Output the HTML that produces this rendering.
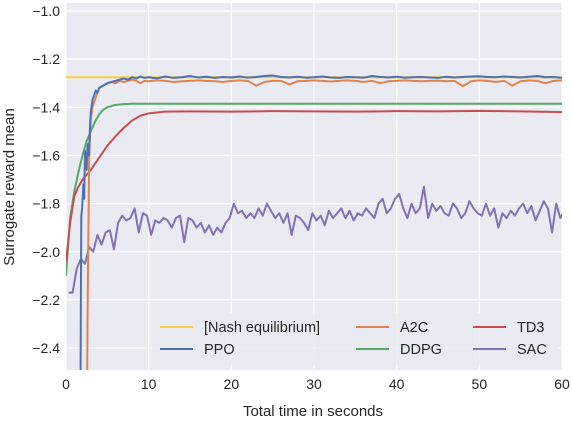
<!DOCTYPE html>
<html><head><meta charset="utf-8"><style>
body{margin:0;background:#fff;font-family:"Liberation Sans",sans-serif}
</style></head><body>
<svg width="572" height="421" xmlns="http://www.w3.org/2000/svg" style="font-family:'Liberation Sans',sans-serif">
<rect x="66" y="3" width="496" height="367" fill="#eaeaf2"/>
<g id="grid"></g>
<g id="series" clip-path="url(#clip)"></g>
<defs><clipPath id="clip"><rect x="66" y="3" width="496" height="367"/></clipPath></defs>
<g id="axes" font-size="14" fill="#262626"></g>
<text x="313" y="416" text-anchor="middle" font-size="15" fill="#262626">Total time in seconds</text>
<text transform="translate(14,187) rotate(-90)" text-anchor="middle" font-size="15" fill="#262626">Surrogate reward mean</text>
<g id="legend">
<rect x="152" y="313" width="406" height="52" rx="3" fill="#eaeaf2" opacity="0.8"/>
</g>
</svg>
<script>
const xTicks=[0,10,20,30,40,50,60];
const yTicks=[-1.0,-1.2,-1.4,-1.6,-1.8,-2.0,-2.2,-2.4];
const nash=-1.275;
const ppoT=[0,1.75,1.8,1.85,1.95,2.1,2.2,2.3,2.4,2.5,2.6,2.7,2.8,2.9,3.0,3.2,3.4,3.6,3.8,4.0,4.5,5,5.5,6,6.5,7,7.5,8,8.5,9,9.5,10,11,12,13,14,15,16,17,18,19,20,21,22,23,24,25,26,27,28,29,30,31,32,33,34,35,36,37,38,39,40,41,42,43,44,45,46,47,48,49,50,51,52,53,54,55,56,57,58,59,60];
const ppoV=[-2.6,-2.6,-2.2,-1.85,-1.82,-1.72,-1.78,-1.58,-1.62,-1.66,-1.56,-1.55,-1.6,-1.48,-1.42,-1.37,-1.35,-1.33,-1.34,-1.32,-1.31,-1.3,-1.295,-1.29,-1.285,-1.28,-1.285,-1.275,-1.28,-1.272,-1.278,-1.275,-1.28,-1.272,-1.278,-1.275,-1.27,-1.276,-1.273,-1.278,-1.274,-1.276,-1.272,-1.277,-1.274,-1.27,-1.268,-1.274,-1.276,-1.273,-1.277,-1.275,-1.272,-1.276,-1.278,-1.274,-1.275,-1.277,-1.27,-1.274,-1.276,-1.273,-1.277,-1.275,-1.274,-1.276,-1.278,-1.273,-1.276,-1.274,-1.272,-1.271,-1.274,-1.275,-1.272,-1.274,-1.276,-1.273,-1.27,-1.275,-1.274,-1.278];
const a2cT=[0,2.55,2.6,2.7,2.8,2.9,3.0,3.2,3.4,3.6,3.8,4.0,4.5,5,5.5,6,6.5,7,7.5,8,8.5,9,9.5,10,11,12,13,14,15,16,17,18,19,20,21,22,23,24,25,26,27,28,29,30,31,32,33,34,35,36,37,38,39,40,41,42,43,44,45,46,47,48,49,50,51,52,53,54,55,56,57,58,59,60];
const a2cV=[-2.6,-2.6,-2.3,-1.95,-1.6,-1.52,-1.45,-1.4,-1.38,-1.36,-1.34,-1.32,-1.31,-1.3,-1.295,-1.3,-1.29,-1.295,-1.29,-1.285,-1.29,-1.3,-1.29,-1.292,-1.288,-1.29,-1.295,-1.292,-1.29,-1.288,-1.29,-1.292,-1.295,-1.29,-1.288,-1.29,-1.31,-1.295,-1.29,-1.29,-1.305,-1.292,-1.29,-1.288,-1.29,-1.293,-1.29,-1.288,-1.29,-1.295,-1.29,-1.3,-1.292,-1.29,-1.288,-1.29,-1.292,-1.29,-1.289,-1.292,-1.29,-1.312,-1.292,-1.288,-1.29,-1.295,-1.29,-1.31,-1.292,-1.288,-1.29,-1.3,-1.29,-1.288,-1.29,-1.29];
const ddpgT=[0,0.5,1,1.5,2,2.5,3,3.5,4,4.5,5,6,7,8,10,20,30,40,50,60];
const ddpgV=[-2.1,-1.86,-1.75,-1.67,-1.6,-1.54,-1.5,-1.46,-1.43,-1.41,-1.4,-1.39,-1.387,-1.385,-1.385,-1.385,-1.385,-1.385,-1.385,-1.385];
const td3T=[0,0.5,1,1.5,2,3,4,5,6,7,8,9,10,12,15,20,25,30,35,40,45,50,55,60];
const td3V=[-2.04,-1.88,-1.77,-1.73,-1.7,-1.66,-1.61,-1.56,-1.52,-1.485,-1.455,-1.435,-1.425,-1.418,-1.417,-1.418,-1.416,-1.417,-1.418,-1.416,-1.417,-1.415,-1.417,-1.42];
const sacV=[-2.17,-2.17,-2.07,-2.03,-2.05,-1.98,-2.0,-1.93,-1.97,-1.92,-1.91,-1.99,-1.88,-1.85,-1.87,-1.86,-1.82,-1.92,-1.84,-1.85,-1.93,-1.87,-1.88,-1.86,-1.87,-1.9,-1.86,-1.85,-1.96,-1.86,-1.87,-1.9,-1.88,-1.92,-1.89,-1.93,-1.9,-1.92,-1.88,-1.86,-1.8,-1.84,-1.83,-1.86,-1.84,-1.86,-1.82,-1.85,-1.8,-1.83,-1.86,-1.84,-1.88,-1.84,-1.93,-1.85,-1.86,-1.88,-1.91,-1.84,-1.87,-1.85,-1.89,-1.83,-1.86,-1.84,-1.82,-1.86,-1.83,-1.87,-1.84,-1.85,-1.82,-1.84,-1.86,-1.8,-1.78,-1.84,-1.82,-1.78,-1.76,-1.82,-1.86,-1.8,-1.84,-1.82,-1.73,-1.86,-1.8,-1.83,-1.81,-1.84,-1.85,-1.8,-1.82,-1.86,-1.84,-1.79,-1.82,-1.84,-1.85,-1.8,-1.85,-1.82,-1.9,-1.84,-1.86,-1.83,-1.85,-1.82,-1.8,-1.84,-1.81,-1.87,-1.83,-1.79,-1.82,-1.92,-1.8,-1.86,-1.83];
const sacStart=0.3, sacStep=0.5;

const X=t=>66+t/60*496;
const Y=v=>11+(-1.0-v)/0.2*48.15;
const NS='http://www.w3.org/2000/svg';
function mk(tag,attrs,parent){const e=document.createElementNS(NS,tag);for(const k in attrs)e.setAttribute(k,attrs[k]);parent.appendChild(e);return e;}
const grid=document.getElementById('grid'),axes=document.getElementById('axes'),ser=document.getElementById('series');
xTicks.forEach(t=>{
 const l=mk('line',{x1:X(t),x2:X(t),y1:3,y2:370,stroke:'#fff','stroke-width':1.2},grid);
 
 const s=mk('text',{x:X(t),y:389,'text-anchor':'middle'},axes);s.textContent=t;
 
});
yTicks.forEach(v=>{
 const l=mk('line',{x1:66,x2:562,y1:Y(v),y2:Y(v),stroke:'#fff','stroke-width':1.2},grid);
 
 const s=mk('text',{x:60,y:Y(v)+5,'text-anchor':'end'},axes);s.textContent='\u2212'+Math.abs(v).toFixed(1);
 
});
function line(ts,vs,color,name){
 const d=ts.map((t,i)=>(i?'L':'M')+X(t).toFixed(2)+','+Y(vs[i]).toFixed(2)).join('');
 const p=mk('path',{d:d,fill:'none',stroke:color,'stroke-width':2,'stroke-linejoin':'round'},ser);
 
}
line([0,60],[nash,nash],'#f5d142','nash-line');
line(ddpgT,ddpgV,'#55a868','ddpg-line');
line(td3T,td3V,'#c44e52','td3-line');
line(sacV.map((v,i)=>sacStart+i*sacStep),sacV,'#8172b3','sac-line');
line(a2cT,a2cV,'#dd8452','a2c-line');
line(ppoT,ppoV,'#4c72b0','ppo-line');
const leg=document.getElementById('legend');
const items=[['[Nash equilibrium]','#f5d142',160,327],['PPO','#4c72b0',160,349],['A2C','#dd8452',356,327],['DDPG','#55a868',356,349],['TD3','#c44e52',473,327],['SAC','#8172b3',473,349]];
items.forEach(([n,c,x,y])=>{
 const l=mk('line',{x1:x,x2:x+33,y1:y,y2:y,stroke:c,'stroke-width':2},leg);
 
 const s=mk('text',{x:x+44,y:y+5,'font-size':14.5,fill:'#262626'},leg);s.textContent=n;
 
});
</script>
</body></html>
